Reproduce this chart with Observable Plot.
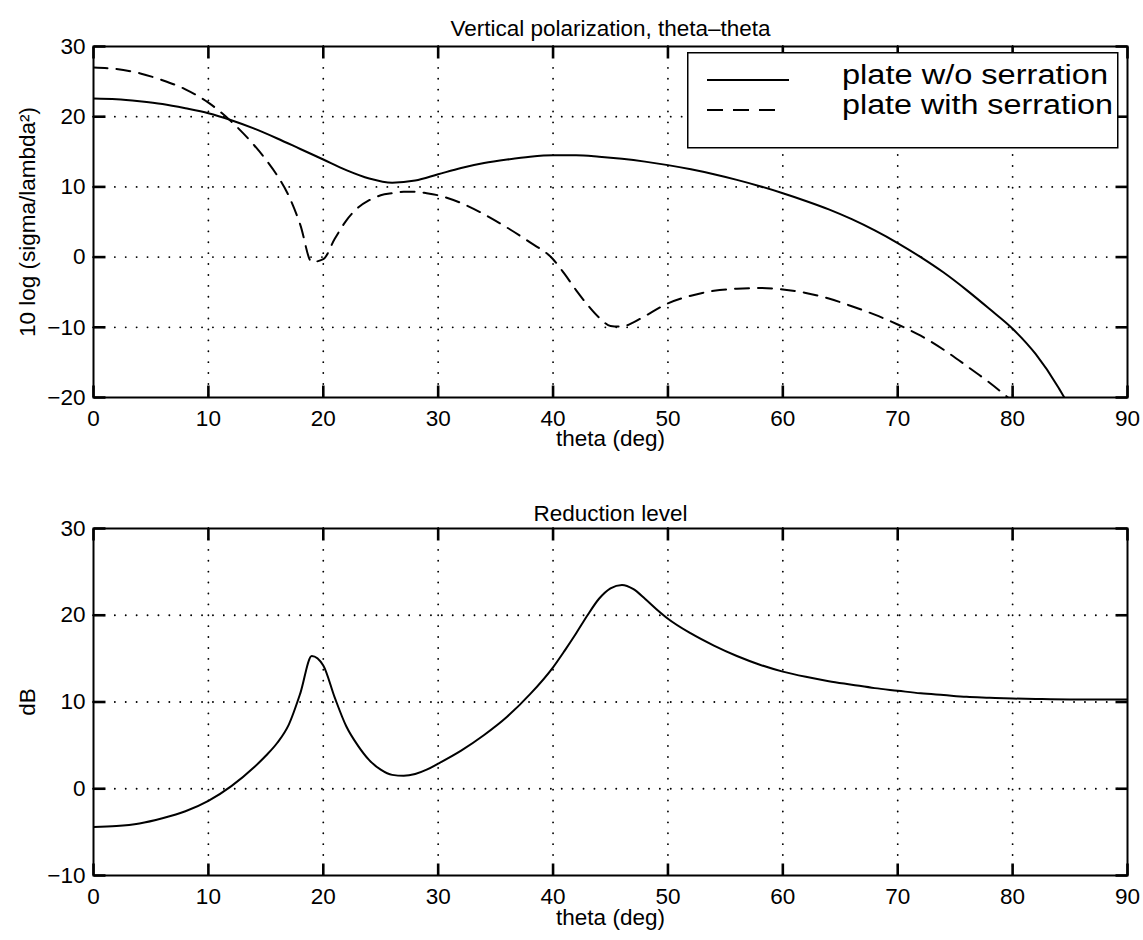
<!DOCTYPE html>
<html>
<head>
<meta charset="utf-8">
<script src="https://cdn.jsdelivr.net/npm/d3@7"></script>
<script src="https://cdn.jsdelivr.net/npm/@observablehq/plot@0.6"></script>
<style>
  body { margin: 0; background: #fff; }
  #wrap { position: relative; width: 1143px; height: 940px; background: #fff;
          font-family: "Liberation Sans", Arial, Helvetica, sans-serif; }
  #top { position: absolute; left: 0; top: 0; }
  #bot { position: absolute; left: 0; top: 470px; }
  #legend { position: absolute; left: 687px; top: 52px; }
</style>
</head>
<body>
<div id="wrap">
  <div id="top"></div>
  <div id="bot"></div>
  <svg id="legend" width="432" height="97" xmlns="http://www.w3.org/2000/svg"></svg>
</div>
<script>
// ---------------- data ----------------
const xTicks = [0, 10, 20, 30, 40, 50, 60, 70, 80, 90];
const yTicksTop = [-20, -10, 0, 10, 20, 30];
const yTicksBot = [-10, 0, 10, 20, 30];

const seriesNames = ["plate w/o serration", "plate with serration"];

const thetaSolid = [0, 2, 4, 6, 8, 10, 12, 14, 16, 18, 20, 22, 24, 26, 28, 30, 32, 34, 36, 38, 40, 42, 44, 46, 48, 50, 52, 54, 56, 58, 60, 62, 64, 66, 68, 70, 72, 74, 76, 78, 80, 82, 84, 84.5];
const valSolid   = [22.6, 22.5, 22.2, 21.8, 21.2, 20.5, 19.5, 18.3, 16.9, 15.4, 13.9, 12.4, 11.2, 10.6, 10.9, 11.8, 12.7, 13.4, 13.9, 14.3, 14.5, 14.5, 14.3, 14.0, 13.6, 13.1, 12.5, 11.8, 11.0, 10.1, 9.1, 8.0, 6.8, 5.4, 3.8, 2.0, 0.0, -2.2, -4.7, -7.4, -10.2, -13.8, -18.6, -20];

const thetaDashed = [0, 2, 4, 6, 8, 10, 12, 14, 15, 16, 17, 18, 19, 20, 21, 22, 23, 24, 25, 26, 27, 28, 29, 30, 32, 34, 36, 38, 40, 41, 42, 43, 44, 45, 46, 47, 48, 50, 52, 54, 56, 58, 60, 62, 64, 66, 68, 70, 72, 74, 76, 78, 79.6];
const valDashed   = [27.0, 26.8, 26.2, 25.2, 23.9, 22.0, 19.3, 15.9, 13.9, 11.6, 8.7, 4.6, -0.7, -0.3, 2.6, 5.2, 7.0, 8.1, 8.8, 9.1, 9.3, 9.3, 9.1, 8.8, 7.7, 6.1, 4.2, 2.1, -0.3, -2.4, -4.7, -6.8, -8.6, -9.8, -9.9, -9.3, -8.4, -6.6, -5.5, -4.8, -4.5, -4.4, -4.6, -5.1, -5.9, -7.0, -8.2, -9.6, -11.2, -13.2, -15.5, -17.9, -20];

const thetaRed = [0, 2, 4, 6, 8, 10, 12, 14, 15, 16, 17, 18, 19, 20, 21, 22, 23, 24, 25, 26, 27, 28, 29, 30, 32, 34, 36, 38, 40, 41, 42, 43, 44, 45, 46, 47, 48, 49, 50, 52, 54, 56, 58, 60, 62, 64, 66, 68, 70, 72, 74, 76, 78, 80, 82, 85, 90];
const valRed   = [-4.4, -4.3, -4.0, -3.4, -2.6, -1.4, 0.3, 2.5, 3.8, 5.3, 7.4, 11.0, 15.3, 14.2, 10.5, 7.2, 5.0, 3.3, 2.2, 1.6, 1.5, 1.7, 2.2, 2.9, 4.4, 6.2, 8.3, 10.9, 14.0, 15.9, 17.9, 20.0, 21.9, 23.1, 23.5, 23.0, 21.9, 20.7, 19.6, 17.9, 16.5, 15.3, 14.3, 13.5, 12.9, 12.4, 12.0, 11.6, 11.3, 11.0, 10.8, 10.6, 10.5, 10.4, 10.35, 10.3, 10.3];

const titleTop = "Vertical polarization, theta–theta";
const titleBot = "Reduction level";
const xLabel = "theta (deg)";
const yLabelTop = "10 log (sigma/lambda²)";
const yLabelBot = "dB";

// ---------------- tables ----------------
const solid = thetaSolid.map((t, i) => ({theta: t, v: valSolid[i]}));
const dashed = thetaDashed.map((t, i) => ({theta: t, v: valDashed[i]}));
const red = thetaRed.map((t, i) => ({theta: t, v: valRed[i]}));

const FONT = "'Liberation Sans', Arial, Helvetica, sans-serif";
const FS = 22.5;
const W = 1143, H = 470, ML = 93, MR = 16;
const XDOM = [0, 90];
const TL = 12; // inward tick length (px)
const gridStyle = {stroke: "#000", strokeOpacity: 1, strokeWidth: 1.8, strokeDasharray: "0.1,10.8", strokeLinecap: "round"};
const tk = {stroke: "#000", strokeWidth: 2.6, strokeOpacity: 1};

function gridMarks(yTicks) {
  return [
    Plot.gridX(xTicks.slice(1, -1), gridStyle),
    Plot.gridY(yTicks.slice(1, -1), gridStyle)
  ];
}
function axisMarks(yTicks, yDom, innerH, title, titleDy, xlabDy, ylab) {
  // tick length converted from pixels into data units of each scale
  const kx = (XDOM[1] - XDOM[0]) / (W - ML - MR) * TL;
  const ky = (yDom[1] - yDom[0]) / innerH * TL;
  const bottomT = xTicks.map(x => ({x, a: yDom[0], b: yDom[0] + ky}));
  const topT = xTicks.map(x => ({x, a: yDom[1] - ky, b: yDom[1]}));
  const leftT = yTicks.map(y => ({y, a: XDOM[0], b: XDOM[0] + kx}));
  const rightT = yTicks.map(y => ({y, a: XDOM[1] - kx, b: XDOM[1]}));
  return [
    Plot.link(bottomT, {x1: "x", x2: "x", y1: "a", y2: "b", ...tk}),
    Plot.link(topT, {x1: "x", x2: "x", y1: "a", y2: "b", ...tk}),
    Plot.link(leftT, {y1: "y", y2: "y", x1: "a", x2: "b", ...tk}),
    Plot.link(rightT, {y1: "y", y2: "y", x1: "a", x2: "b", ...tk}),
    Plot.frame({stroke: "#000", strokeWidth: 2}),
    Plot.axisX(xTicks, {anchor: "bottom", tickSize: 0, tickPadding: 13, label: null, fontSize: FS, fill: "#000"}),
    Plot.axisY(yTicks, {anchor: "left", tickSize: 0, tickPadding: 8, label: null, fontSize: FS, fill: "#000"}),
    Plot.text([title], {text: d => d, frameAnchor: "top", dy: titleDy, fontSize: FS, fill: "#000"}),
    Plot.text([xLabel], {text: d => d, frameAnchor: "bottom", dy: xlabDy, fontSize: FS, fill: "#000"}),
    Plot.text([ylab], {text: d => d, frameAnchor: "left", textAnchor: "middle", dx: -66, rotate: -90, fontSize: FS, fill: "#000"})
  ];
}

const MT1 = 46, MB1 = 73;
const yDomTop = [-20, 30];
const topPlot = Plot.plot({
  width: W, height: H,
  marginTop: MT1, marginBottom: MB1, marginLeft: ML, marginRight: MR,
  style: {fontFamily: FONT, fontSize: FS + "px", color: "#000", background: "#fff", overflow: "visible"},
  x: {domain: XDOM},
  y: {domain: yDomTop},
  marks: [
    ...gridMarks(yTicksTop),
    Plot.line(solid, {x: "theta", y: "v", stroke: "#000", strokeWidth: 2, curve: "monotone-x", clip: true}),
    Plot.line(dashed, {x: "theta", y: "v", stroke: "#000", strokeWidth: 2, strokeDasharray: "14,9", curve: "monotone-x", clip: true}),
    ...axisMarks(yTicksTop, yDomTop, H - MT1 - MB1, titleTop, -26, 48, yLabelTop)
  ]
});
document.getElementById("top").appendChild(topPlot);

const MT2 = 58, MB2 = 65;
const yDomBot = [-10, 30];
const botPlot = Plot.plot({
  width: W, height: H,
  marginTop: MT2, marginBottom: MB2, marginLeft: ML, marginRight: MR,
  style: {fontFamily: FONT, fontSize: FS + "px", color: "#000", background: "#fff", overflow: "visible"},
  x: {domain: XDOM},
  y: {domain: yDomBot},
  marks: [
    ...gridMarks(yTicksBot),
    Plot.line(red, {x: "theta", y: "v", stroke: "#000", strokeWidth: 2, curve: "monotone-x", clip: true}),
    ...axisMarks(yTicksBot, yDomBot, H - MT2 - MB2, titleBot, -23, 49, yLabelBot)
  ]
});
document.getElementById("bot").appendChild(botPlot);

// ---------------- legend ----------------
const lg = d3.select("#legend");
lg.append("rect").attr("x", 0.75).attr("y", 0.75).attr("width", 430).attr("height", 95)
  .attr("fill", "#fff").attr("stroke", "#000").attr("stroke-width", 1.5);
const lgRows = [
  {name: seriesNames[0], dash: null, y: 28, x2: 102, ty: 32, len: 266},
  {name: seriesNames[1], dash: "16,10", y: 58, x2: 90, ty: 62, len: 271}
];
lgRows.forEach(r => {
  lg.append("line").attr("x1", 20).attr("x2", r.x2).attr("y1", r.y).attr("y2", r.y)
    .attr("stroke", "#000").attr("stroke-width", 2).attr("stroke-dasharray", r.dash);
  lg.append("text").attr("x", 155).attr("y", r.ty).text(r.name)
    .attr("font-family", FONT).attr("font-size", 27).attr("fill", "#000")
    .attr("textLength", r.len).attr("lengthAdjust", "spacingAndGlyphs");
});
</script>
</body>
</html>
